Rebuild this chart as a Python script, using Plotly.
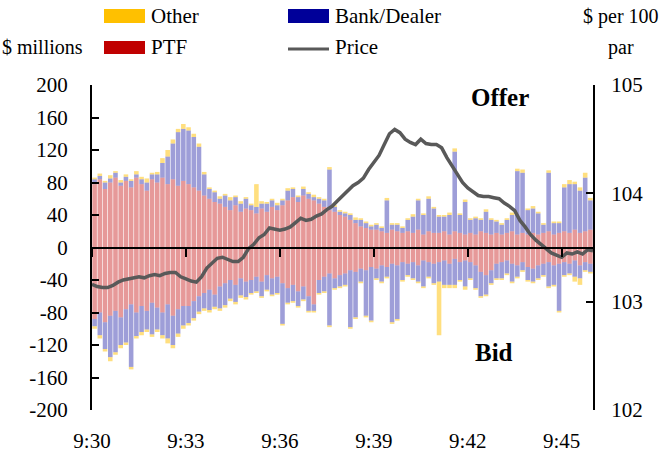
import pandas as pd
import plotly.graph_objects as go

# 10-second bins, 9:30:00 - 9:46:00 (one row = one minute)
times = pd.date_range('2014-10-15 09:30:05', periods=96, freq='10s')
price_times = pd.date_range('2014-10-15 09:30:00', periods=97, freq='10s')

ptf_offer = [78, 84, 72, 80, 86, 76,
             82, 74, 86, 78, 70, 84,
             80, 86, 78, 84, 76, 82,
             78, 74, 70, 64, 60, 56,
             54, 50, 46, 52, 44, 48,
             46, 42, 48, 44, 50, 46,
             52, 58, 62, 56, 64, 60,
             58, 54, 50, 46, 44, 40,
             38, 34, 30, 26, 24, 22,
             22, 20, 18, 22, 20, 18,
             20, 18, 22, 16, 20, 18,
             18, 20, 16, 20, 18, 16,
             18, 16, 20, 18, 16, 18,
             16, 18, 20, 16, 18, 16,
             18, 16, 18, 20, 16, 18,
             20, 18, 22, 18, 20, 22]

bd_offer = [6, 4, 8, 5, 6, 4,
            5, 8, 4, 6, 10, 6,
            10, 18, 34, 44, 66, 64,
            66, 62, 54, 26, 12, 12,
            6, 14, 12, 10, 10, 12,
            6, 8, 6, 10, 8, 6,
            6, 12, 10, 6, 8, 6,
            4, 6, 8, 50, 6, 4,
            4, 6, 4, 8, 6, 4,
            6, 4, 40, 6, 8, 6,
            14, 20, 36, 24, 40, 30,
            20, 18, 24, 98, 22, 40,
            16, 20, 14, 26, 18, 14,
            12, 16, 20, 78, 74, 30,
            30, 26, 10, 72, 14, 12,
            54, 60, 56, 52, 66, 36]

other_offer = [2, 3, 2, 4, 2, 3,
               3, 2, 4, 3, 5, 2,
               3, 6, 8, 5, 4, 6,
               4, 4, 4, 3, 2, 2,
               3, 2, 4, 2, 3, 2,
               2, 28, 3, 2, 2, 3,
               2, 3, 2, 2, 3, 2,
               3, 2, 2, 3, 2, 2,
               2, 2, 3, 2, 2, 2,
               2, 2, 3, 2, 2, 2,
               2, 3, 2, 2, 3, 2,
               2, 2, 3, 4, 2, 3,
               2, 2, 2, 3, 2, 2,
               2, 2, 3, 3, 4, 2,
               3, 2, 2, 3, 2, 2,
               4, 5, 3, 4, 6, 3]

ptf_bid = [-88, -80, -92, -84, -78, -86,
           -76, -70, -80, -72, -78, -68,
           -74, -80, -70, -84, -76, -72,
           -72, -66, -60, -56, -52, -58,
           -48, -44, -40, -46, -38, -42,
           -40, -36, -42, -34, -38, -36,
           -44, -50, -46, -54, -48, -60,
           -70, -40, -36, -32, -38, -34,
           -32, -28, -30, -26, -28, -24,
           -26, -22, -24, -20, -22, -18,
           -20, -18, -22, -16, -18, -20,
           -18, -16, -20, -14, -18, -16,
           -18, -22, -30, -34, -28, -20,
           -18, -16, -20, -22, -18, -24,
           -26, -22, -20, -18, -22, -20,
           -18, -20, -16, -22, -18, -20]

bd_bid = [-9, -28, -33, -51, -51, -34,
          -41, -77, -29, -32, -23, -39,
          -27, -28, -42, -36, -30, -24,
          -21, -21, -19, -19, -25, -15,
          -27, -27, -23, -21, -21, -19,
          -16, -18, -18, -18, -20, -20,
          -50, -18, -20, -18, -16, -18,
          -8, -16, -18, -64, -12, -14,
          -14, -70, -56, -16, -56, -66,
          -12, -20, -12, -72, -66, -22,
          -14, -20, -20, -32, -18, -24,
          -24, -30, -26, -32, -22, -32,
          -20, -28, -30, -24, -16, -18,
          -20, -16, -22, -14, -10, -16,
          -16, -16, -14, -30, -24, -58,
          -16, -12, -20, -16, -10, -10]

other_bid = [-3, -4, -3, -5, -3, -4,
             -3, -3, -3, -4, -3, -3,
             -3, -4, -6, -4, -4, -4,
             -3, -3, -3, -3, -3, -3,
             -3, -3, -3, -3, -3, -3,
             -2, -2, -2, -2, -2, -2,
             -2, -2, -2, -2, -2, -2,
             -2, -2, -2, -2, -2, -2,
             -2, -2, -2, -2, -2, -2,
             -2, -2, -2, -2, -2, -2,
             -2, -2, -2, -2, -2, -2,
             -66, -4, -4, -4, -2, -4,
             -2, -2, -2, -2, -2, -2,
             -2, -2, -2, -2, -2, -2,
             -2, -2, -2, -2, -2, -2,
             -2, -2, -6, -8, -2, -2]

price = [103.16, 103.14, 103.13, 103.13, 103.15, 103.18,
         103.20, 103.21, 103.22, 103.23, 103.22, 103.24,
         103.25, 103.24, 103.26, 103.27, 103.27, 103.23,
         103.21, 103.19, 103.18, 103.23, 103.31, 103.36,
         103.40, 103.41, 103.39, 103.37, 103.37, 103.41,
         103.49, 103.53, 103.59, 103.62, 103.68, 103.67,
         103.66, 103.67, 103.69, 103.73, 103.77, 103.75,
         103.76, 103.79, 103.81, 103.85, 103.88, 103.93,
         103.98, 104.02, 104.07, 104.10, 104.14, 104.22,
         104.29, 104.35, 104.45, 104.55, 104.59, 104.56,
         104.50, 104.47, 104.45, 104.50, 104.46, 104.45,
         104.45, 104.42, 104.33, 104.25, 104.18, 104.10,
         104.05, 104.01, 103.98, 103.97, 103.97, 103.96,
         103.95, 103.91, 103.88, 103.84, 103.75, 103.69,
         103.62, 103.57, 103.53, 103.49, 103.45, 103.43,
         103.41, 103.45, 103.44, 103.46, 103.44, 103.48, 103.47]

x_ticks = pd.to_datetime(['2014-10-15 09:30', '2014-10-15 09:33', '2014-10-15 09:36',
                          '2014-10-15 09:39', '2014-10-15 09:42', '2014-10-15 09:45'])
x_labels = ['9:30', '9:33', '9:36', '9:39', '9:42', '9:45']
y_ticks = [200, 160, 120, 80, 40, 0, -40, -80, -120, -160, -200]
y_labels = [str(v) for v in y_ticks]
y2_ticks = [102, 103, 104, 105]

RED = 'rgba(192,0,0,0.40)'
BLUE = 'rgba(0,0,153,0.38)'
YELLOW = 'rgba(255,192,0,0.50)'
FONT = 'Liberation Serif'

fig = go.Figure()
for vals, col in [(ptf_offer, RED), (ptf_bid, RED), (bd_offer, BLUE), (bd_bid, BLUE),
                  (other_offer, YELLOW), (other_bid, YELLOW)]:
    fig.add_trace(go.Bar(x=times, y=vals, marker=dict(color=col, line_width=0),
                         showlegend=False, xaxis='x', yaxis='y'))

fig.add_trace(go.Scatter(x=price_times, y=price, mode='lines',
                         line=dict(color='#595959', width=3.5),
                         showlegend=False, xaxis='x2', yaxis='y2'))

xr = ['2014-10-15 09:30:00', '2014-10-15 09:46:00']
fig.update_layout(
    width=661, height=453,
    margin=dict(l=92, r=68, t=85, b=43),
    paper_bgcolor='white', plot_bgcolor='white',
    barmode='relative', bargap=0.12,
    font=dict(family=FONT, size=21, color='black'),
    xaxis=dict(type='date', range=xr, tickvals=x_ticks, ticktext=x_labels,
               showline=False, ticks='', showgrid=False, zeroline=False,
               ticklabelstandoff=16, tickfont=dict(size=21), automargin=False),
    xaxis2=dict(type='date', range=xr, overlaying='x', anchor='free', position=0.5,
                tickvals=x_ticks, showticklabels=False, showline=True,
                linecolor='black', linewidth=2, ticks='outside', ticklen=8,
                tickwidth=2, tickcolor='black', showgrid=False, zeroline=False,
                automargin=False),
    yaxis=dict(range=[-200, 200], tickvals=y_ticks, ticktext=y_labels,
               ticks='inside', ticklen=7, tickwidth=2, tickcolor='black',
               showline=True, linecolor='black', linewidth=2, tickfont=dict(size=21),
               showgrid=False, zeroline=False, ticklabelstandoff=18, automargin=False),
    yaxis2=dict(range=[102, 105], tickvals=y2_ticks, overlaying='y', side='right',
                anchor='x', ticks='inside', ticklen=7, tickwidth=2, tickcolor='black',
                showline=True, linecolor='black', linewidth=2, tickfont=dict(size=21),
                showgrid=False, zeroline=False, ticklabelstandoff=12, automargin=False),
)


def px(x):
    return (x - 92) / 501


def py(y):
    return (410 - y) / 325


# legend drawn by hand (wide swatches, 2x2 layout)
shapes = [
    dict(type='rect', xref='paper', yref='paper', x0=px(104), x1=px(145), y0=py(23), y1=py(9),
         fillcolor='#FFC000', line_width=0),
    dict(type='rect', xref='paper', yref='paper', x0=px(104), x1=px(145), y0=py(54), y1=py(41),
         fillcolor='#C00000', line_width=0),
    dict(type='rect', xref='paper', yref='paper', x0=px(288), x1=px(329), y0=py(23), y1=py(9),
         fillcolor='#000099', line_width=0),
    dict(type='line', xref='paper', yref='paper', x0=px(288), x1=px(329), y0=py(49), y1=py(49),
         line=dict(color='#595959', width=3)),
]
fig.update_layout(shapes=shapes)

notes = [
    ('Other', 149, 16, 'left', 21, False),
    ('PTF', 149, 47, 'left', 21, False),
    ('Bank/Dealer', 333, 16, 'left', 21, False),
    ('Price', 333, 47, 'left', 21, False),
    ('$ millions', 42, 47, 'center', 20, False),
    ('$ per 100', 621, 16, 'center', 20, False),
    ('par', 621, 47, 'center', 20, False),
    ('Offer', 500, 97, 'center', 25, True),
    ('Bid', 494, 352, 'center', 25, True),
]
for text, x, y, anchor, size, bold in notes:
    fig.add_annotation(text='<b>%s</b>' % text if bold else text,
                       xref='paper', yref='paper', x=px(x), y=py(y),
                       xanchor=anchor, yanchor='middle', showarrow=False,
                       font=dict(family=FONT, size=size, color='black'))

fig.write_html("out.html", config={'displayModeBar': False},
               post_script="document.body.style.margin = '0px';")
